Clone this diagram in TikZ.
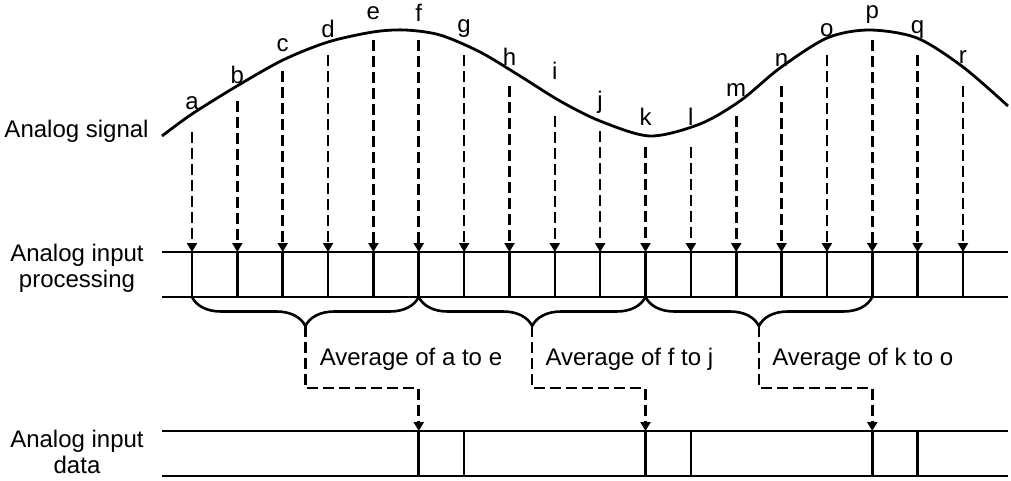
\documentclass[tikz,border=0pt]{standalone}
\usepackage{fontspec}
\setmainfont{Liberation Sans}
\usetikzlibrary{arrows.meta,decorations.pathreplacing,calc}
\begin{document}
\begin{tikzpicture}[>={Triangle[length=4.5pt,width=5pt]}, x=0.5pt, y=-0.5pt,
	every node/.style={font=\fontsize{12}{13}\selectfont, inner sep=0pt},
	line/.style={line width=1.3pt},
	sampleline/.style={line width=1.3pt, dash pattern=on 5.5pt off 2.5pt},
	bracket/.style={line width=1.3pt, decorate, decoration={brace, mirror, amplitude=14.5pt}}]
	\useasboundingbox (0,0) rectangle (1011,481);
	% analog signal
	\draw[line width=1.4pt] plot[smooth] coordinates {(162,136) (192,114) (237,86) (283,60) (328,42) (373,32) (405,30) (440,35) (480,52) (520,76) (560,101) (600,121) (650,136) (700,124) (740,101) (780,68) (827,38) (869,30) (917,38) (963,67) (1008,106)};
	\node[anchor=base east] (sig) at (149,137) {Analog signal};
	% samples
	\foreach \lab/\top/\ly [count=\i from 0] in {a/132/103, b/101/75, c/71/45, d/55/29, e/40/13, f/40/13, g/55/29, h/86/57, i/116/71, j/131/102, k/147/117, l/147/117, m/116/90, n/86/60, o/55/30, p/40/15, q/55/30, r/86/57}{
		\pgfmathsetmacro{\sx}{192+45.35*\i}
		\node (lab-\lab) at (\sx,\ly) {\lab};
		\coordinate (top-\lab) at (\sx,\top);
		\coordinate (in-\lab) at (\sx,252);
		\coordinate (out-\lab) at (\sx,297);
		\draw[sampleline,->] (top-\lab) -- (in-\lab);
		\draw[line] (in-\lab) -- (out-\lab);
	}
	% processing row
	\node[align=center] (proc) at (77,268) {Analog input\\processing};
	\coordinate (p1) at (162,252); \coordinate (p2) at (1008,252);
	\coordinate (p3) at (162,297); \coordinate (p4) at (1008,297);
	\draw[line] (p1) -- (p2);
	\draw[line] (p3) -- (p4);
	\foreach \s/\e/\n in {a/f/1, f/k/2, k/p/3}{
		\draw[bracket] (out-\s) -- (out-\e);
		\coordinate (tip-\n) at ($(out-\s)!0.5!(out-\e)+(0,29)$);
	}
	% data row
	\node[align=center] (data) at (77,452) {Analog input\\data};
	\coordinate (d1) at (162,431); \coordinate (d2) at (1008,431);
	\coordinate (d3) at (162,476); \coordinate (d4) at (1008,476);
	\draw[line] (d1) -- (d2);
	\draw[line] (d3) -- (d4);
	\foreach \lab in {f,g,k,l,p,q}{
		\coordinate (dat-\lab) at (in-\lab |- d1);
		\coordinate (datb-\lab) at (in-\lab |- d3);
		\draw[line] (dat-\lab) -- (datb-\lab);
	}
	% averages
	\draw[sampleline,->] (tip-1) |- ($(dat-f)+(0,-43)$) -- (dat-f);
	\draw[sampleline,->] (tip-2) |- ($(dat-k)+(0,-43)$) -- (dat-k);
	\draw[sampleline,->] (tip-3) |- ($(dat-p)+(0,-43)$) -- (dat-p);
	\node[anchor=west] (avg-1) at ($(tip-1)+(14,33)$) {Average of a to e};
	\node[anchor=west] (avg-2) at ($(tip-2)+(13,33)$) {Average of f to j};
	\node[anchor=west] (avg-3) at ($(tip-3)+(13,33)$) {Average of k to o};
\end{tikzpicture}
\end{document}
